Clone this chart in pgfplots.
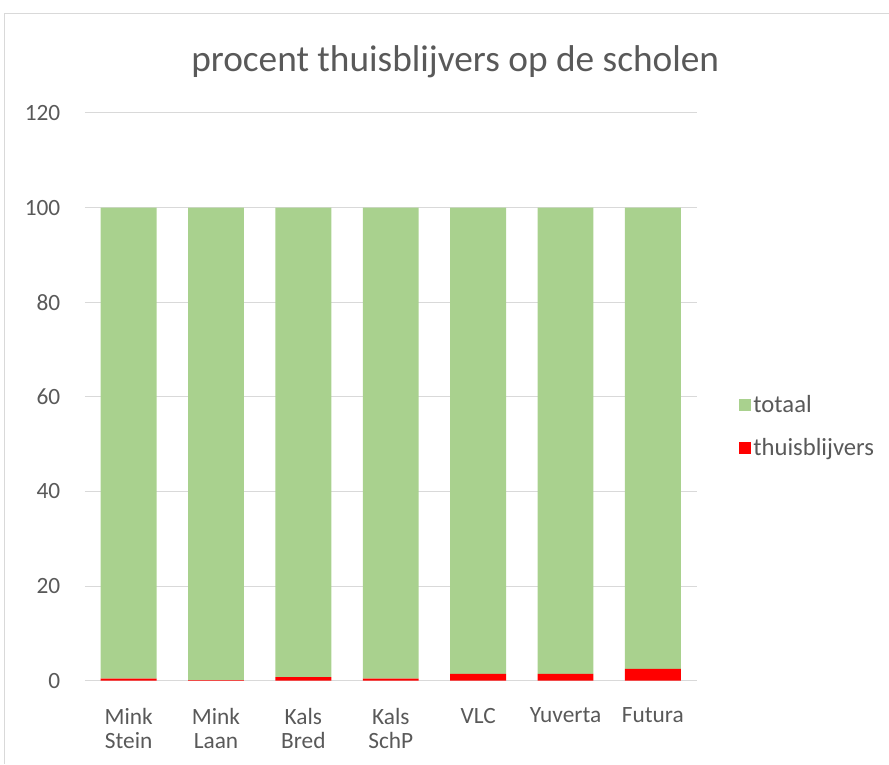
\documentclass[border=0pt]{standalone}
\usepackage{pgfplots}
\pgfplotsset{compat=1.18}
\usepackage{fontspec}
\setmainfont{Carlito}
\definecolor{txt}{HTML}{595959}
\definecolor{grn}{HTML}{A9D18E}
\definecolor{grd}{HTML}{D9D9D9}
\begin{document}
\begin{tikzpicture}
\path (0pt,0pt) rectangle (666.75pt,573pt);
\draw[grd, line width=0.75pt] (3.75pt,0pt) -- (3.75pt,562.5pt) -- (666.75pt,562.5pt);
\node[txt, font=\fontsize{28}{32}\selectfont] at (341.6pt,526.5pt) {procent thuisblijvers op de scholen};
\begin{axis}[
  at={(63.75pt,62.25pt)}, anchor=south west,
  scale only axis, width=459pt, height=426pt,
  ybar stacked, bar width=0.64,
  xmin=-0.5, xmax=6.5, ymin=0, ymax=120,
  ytick={0,20,...,120},
  xtick={0,...,6},
  xticklabels={{Mink\\Stein},{Mink\\Laan},{Kals\\Bred},{Kals\\SchP},VLC,Yuverta,Futura},
  x tick label style={align=center, text=txt, font=\fontsize{17.5}{18}\selectfont, yshift=-17pt},
  y tick label style={text=txt, font=\fontsize{17.5}{20}\selectfont, xshift=-15pt},
  /pgf/number format/assume math mode=true,
  ymajorgrids, grid style={grd, line width=0.75pt},
  separate axis lines,
  axis x line*=bottom, axis y line*=left,
  x axis line style={draw=grd, line width=0.75pt, -},
  y axis line style={draw=none},
  major tick length=0pt,
  reverse legend,
  legend style={at={(1.062,0.447)}, anchor=west, draw=none, fill=none,
    font=\fontsize{18.5}{20}\selectfont, text=txt, row sep=14pt},
  legend cell align=left,
  legend image code/.code={\fill[#1] (0pt,-4.5pt) rectangle (9pt,4.5pt);},
]
\addplot[fill=red, draw=none] coordinates {(0,0.4) (1,0.12) (2,0.75) (3,0.4) (4,1.4) (5,1.4) (6,2.5)};
\addplot[fill=grn, draw=none] coordinates {(0,99.6) (1,99.88) (2,99.25) (3,99.6) (4,98.6) (5,98.6) (6,97.5)};
\legend{thuisblijvers,totaal}
\end{axis}
\end{tikzpicture}
\end{document}
